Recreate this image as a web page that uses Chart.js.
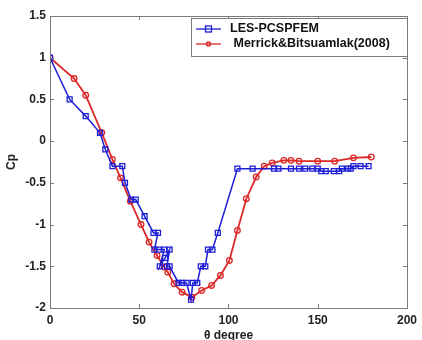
<!DOCTYPE html>
<html>
<head>
<meta charset="utf-8">
<script src="https://cdn.jsdelivr.net/npm/chart.js@4.4.0/dist/chart.umd.min.js"></script>
<style>
  html, body { margin: 0; padding: 0; background: #fff; }
  #wrap { width: 422px; height: 340px; }
</style>
</head>
<body>
<div id="wrap"><canvas id="cpChart" width="422" height="340"></canvas></div>
<script>
// theta (deg) and Cp, LES-PCSPFEM
const lesTheta = [0, 11, 20, 28, 31, 35, 40.5, 42, 45.5, 48, 53, 58, 60.5, 58.5, 61, 64, 61.5, 64.5, 67, 65.5, 67,
  72, 74, 76.5, 79, 80, 82.5, 84.5, 87, 88.5, 91, 94, 105, 113.5, 125.5, 128, 135, 139.5, 143, 147, 150,
  152, 154.5, 159, 162, 163.5, 167, 168.5, 170, 174, 178.5];
const lesCp = [1, 0.5, 0.3, 0.1, -0.1, -0.3, -0.3, -0.5, -0.7, -0.7, -0.9, -1.1, -1.1, -1.3, -1.3, -1.3, -1.5, -1.4, -1.3, -1.5, -1.5,
  -1.7, -1.7, -1.7, -1.9, -1.7, -1.7, -1.5, -1.5, -1.3, -1.3, -1.1, -0.33, -0.33, -0.33, -0.33, -0.33, -0.33, -0.33, -0.33, -0.33,
  -0.36, -0.36, -0.36, -0.36, -0.33, -0.33, -0.33, -0.3, -0.3, -0.3];

// Merrick & Bitsuamlak (2008)
const mbTheta = [0, 13.5, 20, 29, 35, 39.5, 45, 51, 55.5, 60, 64, 66, 69.5, 74, 79.5, 85, 90.5, 95.5, 100.5, 105,
  110, 115.5, 120, 124.5, 131, 135, 139.5, 150, 159.5, 170, 180];
const mbCp = [1, 0.75, 0.55, 0.1, -0.22, -0.44, -0.72, -1.0, -1.21, -1.37, -1.51, -1.57, -1.71, -1.81, -1.87, -1.79, -1.73, -1.61, -1.43, -1.07,
  -0.69, -0.43, -0.3, -0.26, -0.23, -0.23, -0.24, -0.24, -0.24, -0.2, -0.19];

const xTicks = [0, 50, 100, 150, 200];
const yTicks = [-2, -1.5, -1, -0.5, 0, 0.5, 1, 1.5];
const seriesLabels = ["LES-PCSPFEM", " Merrick&Bitsuamlak(2008)"];

const blue = "rgb(30,30,215)";
const red = "rgb(220,40,40)";
const axisGray = "#7a7a7a";
const fontBold = { family: "Liberation Sans, Arial, sans-serif", size: 12, weight: "bold" };

function toPoints(xs, ys) {
  return xs.map(function (x, i) { return { x: x, y: ys[i] }; });
}

// box + inward matlab-style ticks + legend
const matlabFrame = {
  id: "matlabFrame",
  afterDraw: function (chart) {
    const ctx = chart.ctx;
    const a = chart.chartArea;
    const xs = chart.scales.x, ys = chart.scales.y;
    ctx.save();
    ctx.strokeStyle = axisGray;
    ctx.lineWidth = 1;
    ctx.strokeRect(a.left + 0.5, a.top + 0.5, a.right - a.left, a.bottom - a.top);
    ctx.beginPath();
    xTicks.forEach(function (v) {
      const px = Math.round(xs.getPixelForValue(v)) + 0.5;
      ctx.moveTo(px, a.bottom); ctx.lineTo(px, a.bottom - 4);
      ctx.moveTo(px, a.top); ctx.lineTo(px, a.top + 4);
    });
    yTicks.forEach(function (v) {
      const py = Math.round(ys.getPixelForValue(v)) + 0.5;
      ctx.moveTo(a.left, py); ctx.lineTo(a.left + 4, py);
      ctx.moveTo(a.right, py); ctx.lineTo(a.right - 4, py);
    });
    ctx.stroke();

    // legend
    const lx = 191, ly = 18, lw = 216, lh = 38;
    ctx.fillStyle = "#fff";
    ctx.fillRect(lx, ly, lw, lh);
    ctx.strokeStyle = axisGray;
    ctx.strokeRect(lx + 0.5, ly + 0.5, lw, lh);
    ctx.font = "bold 12.5px Liberation Sans, Arial, sans-serif";
    ctx.textBaseline = "middle";
    chart.data.datasets.forEach(function (ds, i) {
      const cy = ly + 11 + i * 15;
      ctx.strokeStyle = ds.borderColor;
      ctx.lineWidth = 1.3;
      ctx.beginPath();
      ctx.moveTo(lx + 5, cy); ctx.lineTo(lx + 30, cy);
      ctx.stroke();
      if (i === 0) {
        ctx.strokeRect(lx + 14.5, cy - 3, 6, 6);
      } else {
        ctx.beginPath();
        ctx.arc(lx + 17.5, cy, 2, 0, Math.PI * 2);
        ctx.stroke();
      }
      ctx.fillStyle = "#111";
      ctx.fillText(ds.label, lx + 39, cy);
    });
    ctx.restore();
  }
};

const cpChart = new Chart(document.getElementById("cpChart"), {
  type: "scatter",
  data: {
    datasets: [
      {
        label: seriesLabels[0],
        data: toPoints(lesTheta, lesCp),
        showLine: true,
        borderColor: blue,
        backgroundColor: "rgba(0,0,0,0)",
        borderWidth: 1.5,
        pointStyle: "rect",
        pointRadius: 3.5,
        pointBorderWidth: 1.3,
        pointBorderColor: blue,
      },
      {
        label: seriesLabels[1],
        data: toPoints(mbTheta, mbCp),
        showLine: true,
        borderColor: red,
        backgroundColor: "rgba(0,0,0,0)",
        borderWidth: 1.8,
        pointStyle: "circle",
        pointRadius: 2.8,
        pointBorderWidth: 1.3,
        pointBorderColor: red,
      },
    ],
  },
  options: {
    responsive: false,
    animation: false,
    layout: { padding: { left: 4, right: 12, top: 16, bottom: 0 } },
    plugins: {
      legend: { display: false },
      tooltip: { enabled: false },
    },
    scales: {
      x: {
        type: "linear",
        min: 0,
        max: 200,
        afterBuildTicks: function (s) { s.ticks = xTicks.map(function (v) { return { value: v }; }); },
        afterFit: function (s) { s.height = 32; },
        grid: { display: false, drawTicks: false },
        border: { display: true, color: axisGray },
        ticks: { font: fontBold, color: "#222", padding: 5, maxRotation: 0,
          callback: function (v) { return String(v); } },
        title: { display: true, text: "θ degree", font: fontBold, color: "#222", padding: { top: 0, bottom: -3 } },
      },
      y: {
        min: -2,
        max: 1.5,
        afterBuildTicks: function (s) { s.ticks = yTicks.map(function (v) { return { value: v }; }); },
        afterFit: function (s) { s.width = 46; },
        grid: { display: false, drawTicks: false },
        border: { display: true, color: axisGray },
        ticks: { font: fontBold, color: "#222", padding: 4,
          callback: function (v) { return String(v); } },
        title: { display: true, text: "Cp", font: fontBold, color: "#222", padding: { top: 0, bottom: 4 } },
      },
    },
  },
  plugins: [matlabFrame],
});
</script>
</body>
</html>
